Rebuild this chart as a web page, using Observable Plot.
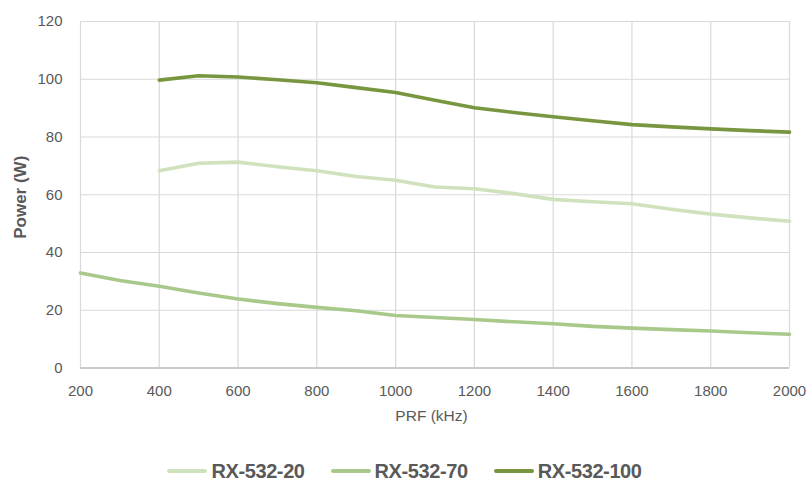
<!DOCTYPE html>
<html>
<head>
<meta charset="utf-8">
<script src="https://cdn.jsdelivr.net/npm/d3@7"></script>
<script src="https://cdn.jsdelivr.net/npm/@observablehq/plot@0.6"></script>
<style>
  html, body { margin: 0; padding: 0; background: #fff; }
  body { width: 809px; height: 483px; overflow: hidden; font-family: "Liberation Sans", Arial, sans-serif; }
  #legend { height: 43px; box-sizing: border-box; padding-top: 21px; line-height: 20px; text-align: center; white-space: nowrap; }
  .item { display: inline-block; margin: 0 13px; font-weight: bold; font-size: 20px; letter-spacing: -0.4px; color: #595959; }
  .sw { display: inline-block; width: 40px; height: 4px; border-radius: 2px; margin-right: 4px; margin-bottom: 5px; }
</style>
</head>
<body>
<div id="chart"></div>
<div id="legend"></div>
<script>
const seriesNames = ["RX-532-20", "RX-532-70", "RX-532-100"];
const seriesColors = ["#d0e2bd", "#a9c98b", "#78963f"];

const prf20 = [400, 500, 600, 700, 800, 900, 1000, 1100, 1200, 1300, 1400, 1500, 1600, 1700, 1800, 1900, 2000];
const power20 = [68.3, 70.9, 71.3, 69.7, 68.3, 66.3, 65.0, 62.7, 62.1, 60.4, 58.4, 57.6, 56.9, 55.0, 53.3, 52.0, 50.8];

const prf70 = [200, 300, 400, 500, 600, 700, 800, 900, 1000, 1100, 1200, 1300, 1400, 1500, 1600, 1700, 1800, 1900, 2000];
const power70 = [32.9, 30.3, 28.3, 26.0, 23.9, 22.3, 21.0, 19.8, 18.2, 17.5, 16.8, 16.0, 15.3, 14.4, 13.8, 13.3, 12.8, 12.2, 11.7];

const prf100 = [400, 500, 600, 700, 800, 900, 1000, 1100, 1200, 1300, 1400, 1500, 1600, 1700, 1800, 1900, 2000];
const power100 = [99.7, 101.2, 100.8, 99.8, 98.8, 97.1, 95.4, 92.7, 90.1, 88.5, 87.0, 85.6, 84.3, 83.5, 82.8, 82.2, 81.7];

const xTicks = [200, 400, 600, 800, 1000, 1200, 1400, 1600, 1800, 2000];
const yTicks = [0, 20, 40, 60, 80, 100, 120];
const xTitle = "PRF (kHz)";
const yTitle = "Power (W)";

const mk = (xs, ys) => xs.map((x, i) => ({x, y: ys[i]}));
const data = [mk(prf20, power20), mk(prf70, power70), mk(prf100, power100)];

const chart = Plot.plot({
  width: 809,
  height: 440,
  marginLeft: 80,
  marginRight: 20,
  marginTop: 21,
  marginBottom: 72.5,
  style: { fontFamily: "Liberation Sans, Arial, sans-serif", fontSize: "15px", color: "#595959", background: "#fff" },
  x: { domain: [200, 2000], ticks: xTicks, label: null },
  y: { domain: [0, 120], ticks: yTicks, label: null },
  marks: [
    Plot.gridX(xTicks, { stroke: "#d9d9d9", strokeOpacity: 1, strokeWidth: 1.2 }),
    Plot.gridY(yTicks, { stroke: "#d9d9d9", strokeOpacity: 1, strokeWidth: 1.2 }),
    Plot.ruleY([0], { stroke: "#bfbfbf", strokeWidth: 1.5 }),
    Plot.axisX(xTicks, { tickSize: 0, tickPadding: 17, fill: "#595959", fontSize: 15, label: null, tickFormat: d => String(d) }),
    Plot.axisY(yTicks, { tickSize: 0, tickPadding: 18, fill: "#595959", fontSize: 15, label: null }),
    ...data.map((d, i) => Plot.line(d, { x: "x", y: "y", stroke: seriesColors[i], strokeWidth: 3.6, strokeLinejoin: "round", strokeLinecap: "round" })),
    Plot.text([xTitle], { frameAnchor: "bottom", dy: 52.5, dx: -3.5, fill: "#595959", fontSize: 15.5 }),
    Plot.text([yTitle], { frameAnchor: "left", textAnchor: "middle", dx: -60, dy: 2.5, rotate: -90, fill: "#595959", fontSize: 17, fontWeight: "bold" })
  ]
});
document.getElementById("chart").appendChild(chart);

const legend = document.getElementById("legend");
seriesNames.forEach((name, i) => {
  const item = document.createElement("span");
  item.className = "item";
  const sw = document.createElement("span");
  sw.className = "sw";
  sw.style.background = seriesColors[i];
  item.appendChild(sw);
  item.appendChild(document.createTextNode(name));
  legend.appendChild(item);
});
</script>
</body>
</html>
